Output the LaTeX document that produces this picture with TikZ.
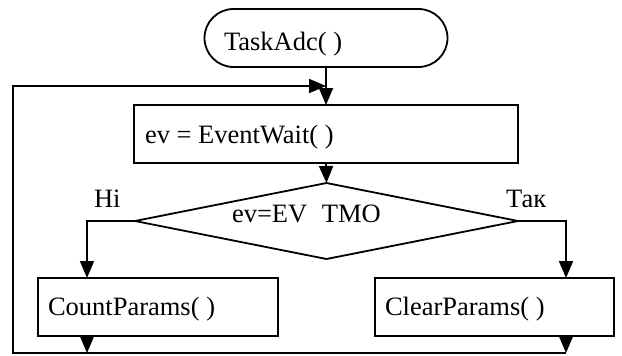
\documentclass[tikz,border=0pt]{standalone}
\usepackage{fontspec}
\setmainfont{Liberation Serif}
\usetikzlibrary{arrows.meta,shapes.geometric,calc}
\begin{document}
\begin{tikzpicture}[x=1pt,y=-1pt,
  line width=1.8pt,
  every node/.style={inner sep=0pt,outer sep=0pt},
  lbl/.style={anchor=base west,font=\fontsize{26.5}{30}\selectfont},
  procbox/.style={draw,rectangle,minimum height=58pt},
  termbox/.style={draw,rectangle,rounded corners=29pt,minimum width=243pt,minimum height=58pt},
  decbox/.style={draw,diamond,minimum width=383pt,minimum height=76pt},
  flow/.style={-{Triangle[length=17pt,width=14pt]}}]
\useasboundingbox (0,0) rectangle (622,356);

% blocks
\node[termbox] (start) at (326,38) {};
\node[procbox,minimum width=384pt] (wait) at (326,134) {};
\node[decbox] (dec) at (326.5,221) {};
\node[procbox,minimum width=240pt] (count) at (158,307) {};
\node[procbox,minimum width=239pt] (clear) at (494.5,307) {};

% texts
\node[lbl] (tStart) at (224,50) {TaskAdc( )};
\node[lbl] (tWait) at (145,143) {ev = EventWait( )};
\node[lbl] (tDec) at (232,222) {ev=EV\hspace{0.55em}TMO};
\node[lbl] (tCount) at (48,315) {CountParams( )};
\node[lbl] (tClear) at (385,315) {ClearParams( )};
\node[lbl] (tNo) at (94,207) {Ні};
\node[lbl] (tYes) at (506,207) {Так};

% loop corners
\coordinate (loopR) at (566,353);
\coordinate (loopBL) at (13,353);
\coordinate (loopTL) at (13,86);

% connectors
\draw[flow] (start.south) -- (wait.north);
\draw[flow] (wait.south) -- (dec.north);
\draw[flow] (dec.west) -| ([xshift=-71pt]count.north);
\draw[flow] (dec.east) -| ([xshift=71.5pt]clear.north);
\draw[flow] ([xshift=-71pt]count.south) -- ([xshift=-71pt]count.south |- loopR);
\draw[flow] ([xshift=71.5pt]clear.south) -- (loopR);
\draw[flow] (loopR) -- (loopBL) -- (loopTL) -- (start.south |- loopTL);
\end{tikzpicture}
\end{document}
